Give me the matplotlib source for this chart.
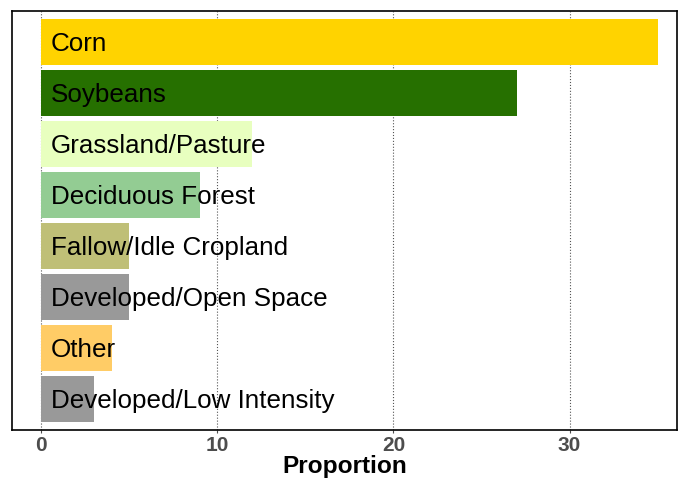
import matplotlib
matplotlib.use("Agg")
import matplotlib.pyplot as plt

# land cover classes, top to bottom
classes = ["Corn", "Soybeans", "Grassland/Pasture", "Deciduous Forest",
           "Fallow/Idle Cropland", "Developed/Open Space", "Other",
           "Developed/Low Intensity"]
proportion = [35, 27, 12, 9, 5, 5, 4, 3]
colors = ["#FFD300", "#267000", "#E8FFBF", "#93CC93",
          "#BFBF77", "#999999", "#FFCC66", "#999999"]
xticks = [0, 10, 20, 30]

plt.rcParams['font.family'] = ['Liberation Sans', 'DejaVu Sans']

fig = plt.figure(figsize=(6.78, 4.79), dpi=100)
ax = fig.add_axes([12/678, 1 - 430/479, 665/678, 419/479])

pos = list(range(len(classes)))
ax.barh(pos, proportion, height=0.9, color=colors, zorder=2)
for i, name in enumerate(classes):
    ax.text(0.57, i + 0.04, name, va='center', ha='left', fontsize=18.7,
            color='black', zorder=3)

ax.set_xlim(-1.65, 36.1)
ax.set_ylim(7.61, -0.61)
ax.set_yticks([])
ax.set_xticks(xticks)
ax.set_xticklabels([str(t) for t in xticks], fontsize=15, fontweight='bold',
                   color='#4d4d4d')
ax.tick_params(axis='x', length=2.5, color='#4d4d4d', pad=1.5)
ax.xaxis.grid(True, linestyle=':', color='#555555', linewidth=0.8, zorder=0)
ax.set_axisbelow(True)
for s in ax.spines.values():
    s.set_color('black')
    s.set_linewidth(1.2)

# axis title placed by hand so it fits the short bottom margin
fig.text(0.5 * (12 + 677) / 678, 1 - 473/479, "Proportion", ha='center',
         va='baseline', fontsize=17.6, fontweight='bold')

fig.savefig("out.png", dpi=100)
